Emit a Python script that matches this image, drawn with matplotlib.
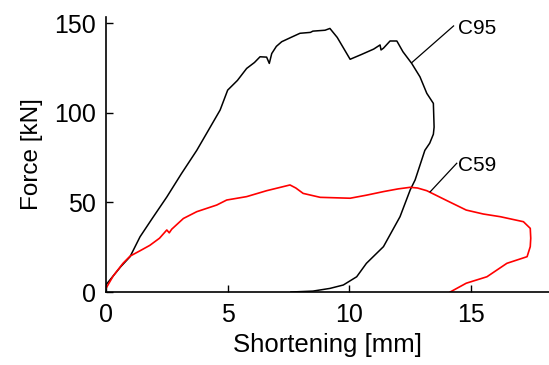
import matplotlib
matplotlib.use("Agg")
import matplotlib.pyplot as plt

# Specimen C95: loading, post-peak and unloading branch
c95_short = [0, 0.3, 0.6, 0.99, 1.4, 1.9, 2.5, 3.1, 3.73, 4.2, 4.69, 5.0, 5.4, 5.78,
             6.1, 6.33, 6.6, 6.71, 6.81, 7.0, 7.22, 7.6, 7.97, 8.4, 8.5, 9.0, 9.2, 9.5,
             10.03, 10.5, 11.0, 11.26, 11.3, 11.4, 11.67, 11.95, 12.2, 12.56, 12.9,
             13.18, 13.45, 13.48, 13.45, 13.3, 13.1, 12.7, 12.5, 12.08, 11.4, 10.7,
             10.3, 9.75, 9.2, 8.5, 7.6]
c95_force = [4, 9, 14, 19.7, 30.8, 41, 53, 66, 79, 90, 101.5, 112.6, 118, 124.7,
             128, 131.2, 131, 127.5, 133, 137, 139.6, 142, 144.3, 144.8, 145.5, 146, 147, 142,
             129.8, 132.5, 135.5, 137.8, 135, 136, 140, 140, 134, 127.5, 120,
             110.8, 105.2, 92, 88, 83, 79, 62.5, 57, 42, 25.3, 16,
             8.5, 3.9, 2, 0.5, 0]

# Specimen C59
c59_short = [0, 0.3, 0.7, 0.99, 1.4, 1.8, 2.2, 2.5, 2.6, 2.7, 3.18, 3.73, 4.55, 4.96,
             5.78, 6.6, 7.2, 7.56, 7.8, 8.1, 8.8, 10.03, 10.7, 11.4, 12.0, 12.5, 12.8,
             13.18, 14.0, 14.8, 15.5, 16.2, 17.15, 17.43, 17.45, 17.43, 17.3, 16.47,
             15.65, 14.8, 14.14]
c59_force = [2, 9, 16, 20, 23, 26, 30, 34.6, 33, 35, 41, 44.8, 48.5, 51.3,
             53.2, 56.5, 58.5, 59.7, 58, 55, 52.8, 52.3, 54, 56, 57.5, 58.4, 58,
             56.5, 51, 45.7, 43.5, 42, 39.2, 35.5, 30, 25.3, 19.7, 16,
             8.5, 4.9, 0]

x_ticks = [0, 5, 10, 15]
y_ticks = [0, 50, 100, 150]

plt.rcParams['font.family'] = ['Liberation Sans', 'DejaVu Sans']

fig = plt.figure(figsize=(5.49, 3.65), dpi=100)
ax = fig.add_axes([0.193, 0.2, 0.807, 0.754])

ax.plot(c95_short, c95_force, color='black', lw=1.1)
ax.plot(c59_short, c59_force, color='red', lw=1.2)

# Curve labels with leader lines
ax.plot([12.56, 14.28], [127.9, 148.4], color='black', lw=0.9)
ax.text(14.45, 147, 'C95', fontsize=15, va='center', ha='left')
ax.plot([13.32, 14.41], [55.9, 71.8], color='black', lw=0.9)
ax.text(14.45, 70.5, 'C59', fontsize=15, va='center', ha='left')

ax.set_xlim(0, 18.2)
ax.set_ylim(0, 153.5)
ax.set_xticks(x_ticks)
ax.set_yticks(y_ticks)
ax.tick_params(direction='in', length=5, width=1, labelsize=18)
ax.tick_params(axis='x', pad=8)
ax.tick_params(axis='y', pad=7)
for side in ('top', 'right'):
    ax.spines[side].set_visible(False)
for side in ('left', 'bottom'):
    ax.spines[side].set_linewidth(1.2)

ax.set_xlabel('Shortening [mm]', fontsize=18.5, labelpad=4)
ax.set_ylabel('Force [kN]', fontsize=17.5, labelpad=8)

fig.savefig('out.png', dpi=100)
